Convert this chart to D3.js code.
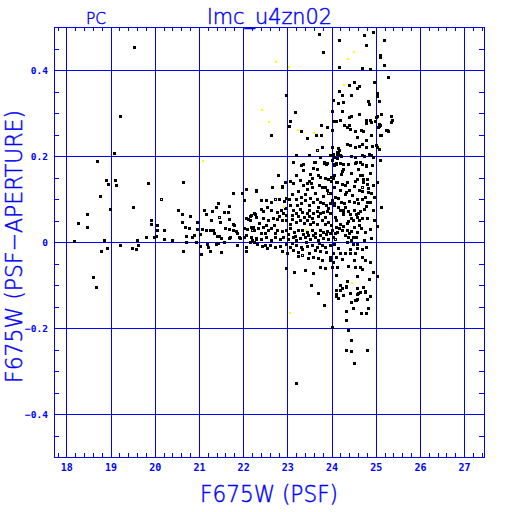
<!DOCTYPE html>
<html><head><meta charset="utf-8">
<script src="https://cdn.jsdelivr.net/npm/d3@7"></script>
<style>body{margin:0;background:#fff}svg{display:block}</style>
</head><body>
<script>
// ---- data ----
const xTicks = [18,19,20,21,22,23,24,25,26,27];
const xTickLabels = ["18","19","20","21","22","23","24","25","26","27"];
const yTicks = [-0.4,-0.2,0,0.2,0.4];
const yTickLabels = ["\u22120.4","\u22120.2","0","0.2","0.4"];
const titleText = "lmc_u4zn02";
const cameraText = "PC";
const xTitle = "F675W (PSF)";
const yTitle = "F675W (PSF\u2212APERTURE)";

const filledStars = [
[19.07,0.207],[18.69,0.189],[18.90,0.145],[19.09,0.145],[18.94,0.134],[19.12,0.133],[18.75,0.108],[18.98,0.077],[18.47,0.065],[18.26,0.045],[18.47,0.036],[18.17,0.003],[18.85,0.005],[18.92,-0.014],[18.78,-0.020],[18.60,-0.081],[18.66,-0.104],[19.52,0.454],[19.22,0.293],
[19.85,0.138],[19.51,0.081],[19.91,0.050],[19.91,0.043],[20.05,0.040],[20.05,0.029],[20.22,0.029],[19.80,0.012],[19.98,0.012],[20.02,0.014],[19.60,0.005],[20.22,0.007],[20.39,0.005],[19.22,-0.006],[19.61,-0.006],[19.48,-0.013],[19.57,-0.016],
[20.65,0.140],[20.53,0.074],[20.62,0.066],[20.79,0.060],[20.62,0.047],[20.68,0.035],[20.77,0.033],[20.96,0.047],[21.11,0.074],[21.16,0.064],[21.30,0.072],[21.44,0.091],[21.69,0.083],[21.38,0.082],[21.56,0.070],[21.65,0.070],[21.77,0.115],[21.97,0.113],[22.06,0.124],[22.29,0.120],[22.02,0.098],
[20.70,0.015],[20.84,0.012],[20.88,0.016],[20.96,0.030],[21.08,0.030],[21.02,0.018],[20.70,-0.001],[20.65,-0.020],[20.93,-0.001],[21.03,-0.009],[21.04,-0.028],[21.18,-0.005],[21.20,-0.012],[21.24,-0.020],[21.16,0.028],[21.26,0.028],[21.32,0.028],[21.33,0.020],[21.41,0.014],[21.46,0.014],[21.50,0.009],[21.39,-0.005],[21.43,-0.003],[21.49,-0.023],[21.56,-0.001],[21.67,0.009],[21.71,0.012],[21.58,0.033],[21.67,0.031],[21.77,0.028],[21.84,0.025],[21.86,0.020],[21.90,0.011],[21.94,0.009],[22.01,0.012],[22.06,0.016],[21.86,-0.007],[22.06,-0.011],[22.06,-0.021],[22.16,-0.001],[22.20,0.004],[22.25,-0.001],[22.06,0.055],[22.12,0.054],[22.16,0.060],[22.16,0.051],[22.24,0.028],[22.18,0.036],[22.01,0.032],[22.09,0.030],[21.76,0.043],[21.79,0.040],[21.27,0.051],[21.68,0.053],[21.47,0.046],
[23.72,0.484],[24.16,0.470],[23.80,0.442],[24.16,0.408],[24.73,0.482],[24.94,0.488],[24.77,0.459],[25.19,0.470],[25.09,0.436],[25.10,0.430],[25.19,0.412],[24.68,0.405],[24.88,0.402],[25.27,0.384],[24.97,0.372],[24.51,0.371],[24.58,0.357],[24.63,0.363],[24.39,0.364],[24.18,0.351],[24.23,0.343],[22.98,0.341],[24.04,0.330],[24.44,0.343],[24.83,0.328],[24.85,0.321],[25.02,0.346],[25.02,0.340],[25.07,0.328],[24.14,0.323],[24.27,0.326],[23.18,0.303],[23.06,0.282],[23.03,0.270],[24.00,0.305],[24.23,0.305],[24.39,0.291],[24.43,0.294],[24.62,0.297],[24.04,0.282],[24.11,0.282],[24.20,0.284],[23.76,0.272],[23.89,0.268],[24.02,0.260],[24.29,0.272],[24.34,0.268],[24.39,0.272],[24.42,0.263],[24.53,0.258],[24.66,0.260],[24.72,0.257],[24.77,0.284],[24.77,0.276],[24.88,0.284],[24.90,0.278],[24.98,0.282],[25.01,0.290],[25.09,0.272],[25.06,0.268],[25.25,0.260],[25.28,0.257],[23.32,0.257],[23.45,0.243],[23.64,0.250],[22.62,0.248],[23.76,0.249],[24.90,0.248],[25.11,0.250],[24.79,0.237],[24.58,0.244],[24.34,0.227],[24.42,0.226],[24.53,0.221],[24.62,0.223],[24.70,0.229],[24.78,0.222],[24.91,0.224],[25.00,0.225],[25.02,0.222],[23.78,0.222],[24.02,0.222],[24.15,0.219],[24.18,0.214],[24.04,0.205],[24.13,0.205],[24.20,0.202],[23.97,0.202],[24.06,0.198],[24.13,0.195],[24.43,0.201],[24.53,0.198],[24.69,0.203],[24.73,0.200],[24.84,0.205],[24.90,0.202],[24.93,0.197],[23.19,0.203],[23.48,0.202],[23.74,0.198],[23.60,0.186],[23.83,0.186],[23.88,0.182],[23.13,0.187],[23.32,0.179],[24.01,0.191],[24.09,0.184],[24.19,0.184],[24.26,0.181],[24.05,0.178],[24.37,0.181],[24.55,0.185],[24.68,0.181],[24.77,0.177],[24.91,0.178],[25.09,0.191],
[25.13,0.298],[25.35,0.293],[25.36,0.284],[25.34,0.280],[25.07,0.274],[25.07,0.270],[25.02,0.294],[25.24,0.260],[25.09,0.249],[25.08,0.217],
[25.04,0.140],[25.13,0.081],[25.02,0.037],[25.04,-0.079],[24.78,0.178],[24.64,0.185],[24.53,0.183],[24.64,0.156],[24.68,0.156],[24.72,0.147],[24.80,0.147],[24.57,0.147],[24.53,0.143],[24.72,0.140],[24.80,0.136],[24.93,0.133],[24.83,0.125],[24.70,0.119],[24.63,0.121],[24.82,0.116],[24.96,0.105],[24.75,0.105],[24.57,0.100],[24.51,0.094],[24.61,0.090],[24.80,0.093],[24.88,0.094],[24.93,0.074],[24.78,0.084],[24.73,0.076],[24.64,0.072],[24.61,0.067],[24.56,0.064],[24.50,0.074],[24.42,0.065],[24.38,0.072],[24.31,0.082],[24.29,0.090],[24.27,0.074],[24.25,0.070],[24.26,0.064],
[24.15,0.206],[24.13,0.210],[24.21,0.201],[24.06,0.181],[24.10,0.181],[24.27,0.170],[24.23,0.164],[24.05,0.156],[24.21,0.157],[24.13,0.140],[24.23,0.135],[24.31,0.132],[24.06,0.127],[24.10,0.139],[24.20,0.121],[24.33,0.117],[24.40,0.121],[24.31,0.111],[24.08,0.105],[24.15,0.103],[24.21,0.094],[24.06,0.091],[24.06,0.086],[24.15,0.081],[24.19,0.074],
[24.08,0.059],[24.11,0.050],[24.19,0.042],[24.27,0.037],[24.34,0.045],[24.38,0.049],[24.44,0.055],[24.48,0.050],[24.57,0.059],[24.63,0.051],[24.70,0.055],[24.81,0.055],[24.87,0.030],[24.76,0.024],[24.67,0.032],[24.57,0.024],[24.51,0.036],[24.45,0.026],[24.40,0.020],[24.34,0.028],[24.23,0.028],[24.17,0.032],[24.10,0.034],[24.07,0.020],[24.13,0.024],[24.30,0.016],[24.38,0.011],[24.45,0.005],[24.48,0.011],[24.55,0.011],[24.73,0.005],[24.36,0.001],[24.48,-0.005],[24.58,-0.005],
[24.05,-0.005],[24.15,-0.015],[24.42,-0.016],[24.57,-0.013],[24.68,-0.016],[24.78,-0.011],[24.04,-0.025],[24.19,-0.026],[24.30,-0.025],[24.42,-0.026],[24.53,-0.025],[24.10,-0.036],[24.23,-0.040],[24.50,-0.042],[24.68,-0.036],[24.76,-0.042],[24.87,-0.047],[24.04,-0.046],[24.13,-0.059],[24.38,-0.056],[24.53,-0.059],[24.64,-0.057],[24.70,-0.062],[24.93,-0.070],[24.11,-0.077],[24.57,-0.079],[24.85,-0.085],[24.36,-0.091],[24.19,-0.100],[24.32,-0.104],[24.58,-0.106],[24.72,-0.104],[24.76,-0.116],[24.57,-0.122],[24.42,-0.119],[24.27,-0.123],[24.11,-0.125],[24.87,-0.125],[24.58,-0.132],
[24.09,-0.121],[24.14,-0.130],[24.59,-0.119],[24.64,-0.116],[24.76,-0.114],[24.53,-0.135],[24.55,-0.135],[24.45,-0.139],[24.80,-0.133],[24.48,-0.153],[24.82,-0.153],[24.32,-0.160],[24.66,-0.164],[24.77,-0.164],[24.32,-0.181],[24.00,-0.197],[24.37,-0.205],[24.45,-0.228],[24.32,-0.250],[24.43,-0.253],[24.80,-0.251],[24.50,-0.281],
[23.53,-0.099],[23.69,-0.118],[23.84,-0.146],[23.20,-0.327],[24.19,-0.111],[24.23,-0.106],[24.32,-0.102],[24.36,-0.090],[24.11,-0.112],
[23.35,0.181],[23.62,0.187],[23.83,0.183],[23.89,0.183],[23.36,0.167],[23.59,0.171],[23.66,0.170],[22.79,0.156],[23.20,0.156],[23.51,0.158],[23.55,0.148],[23.49,0.143],[23.70,0.156],[23.75,0.152],[23.85,0.150],[23.92,0.146],[23.98,0.143],[23.99,0.152],[24.04,0.148],[22.66,0.129],[22.29,0.119],[22.94,0.140],[22.89,0.131],[23.07,0.143],[23.13,0.137],[23.28,0.144],[23.36,0.133],[23.44,0.137],[23.53,0.137],[23.56,0.127],[23.44,0.123],[23.72,0.133],[23.78,0.129],[23.85,0.129],[23.90,0.122],[23.96,0.113],
[22.40,0.098],[22.51,0.098],[22.93,0.096],[22.97,0.102],[23.04,0.099],[23.20,0.099],[23.32,0.105],[23.40,0.098],[23.32,0.090],[23.51,0.102],[23.59,0.094],[23.66,0.099],[23.74,0.094],[23.81,0.090],[23.88,0.086],[23.96,0.090],[24.00,0.098],
[22.53,0.081],[22.64,0.074],[22.46,0.072],[22.40,0.076],[22.76,0.070],[22.85,0.074],[22.91,0.067],[22.98,0.063],[23.13,0.074],[23.20,0.067],[23.28,0.076],[23.34,0.070],[23.44,0.067],[23.50,0.074],[23.59,0.067],[23.66,0.073],[23.74,0.068],[23.81,0.070],[23.89,0.073],[23.96,0.067],[22.25,0.067],[22.18,0.063],[22.29,0.059],
[22.46,0.055],[22.57,0.051],[22.68,0.055],[22.77,0.053],[22.87,0.051],[22.98,0.051],[23.05,0.043],[23.11,0.053],[23.19,0.047],[23.28,0.051],[23.37,0.045],[23.45,0.050],[23.51,0.043],[23.59,0.047],[23.66,0.042],[23.78,0.050],[23.85,0.042],[23.92,0.047],[23.98,0.040],
[22.23,0.036],[22.34,0.032],[22.46,0.034],[22.57,0.028],[22.64,0.032],[22.76,0.029],[22.87,0.026],[22.98,0.029],[23.07,0.032],[23.15,0.024],[23.23,0.028],[23.34,0.029],[23.44,0.024],[23.55,0.028],[23.62,0.022],[23.74,0.028],[23.81,0.024],[23.90,0.026],[24.00,0.029],
[22.18,0.012],[22.29,0.009],[22.40,0.006],[22.52,0.011],[22.64,0.005],[22.71,0.011],[22.83,0.006],[22.90,0.011],[23.02,0.006],[23.13,0.011],[23.20,0.005],[23.28,0.009],[23.40,0.011],[23.51,0.006],[23.62,0.011],[23.70,0.005],[23.81,0.009],[23.92,0.006],[24.04,0.011],
[22.61,-0.007],[22.72,-0.011],[22.83,-0.009],[22.98,-0.005],[23.07,-0.011],[23.20,-0.007],[23.32,-0.012],[23.44,-0.009],[23.55,-0.006],[23.66,-0.012],[23.78,-0.008],[23.85,-0.012],[23.96,-0.007],
[23.13,-0.019],[23.23,-0.023],[23.34,-0.017],[23.50,-0.026],[23.62,-0.019],[23.74,-0.020],[23.88,-0.023],[23.23,-0.033],[23.47,-0.038],[23.59,-0.034],[23.70,-0.038],[23.78,-0.042],[23.96,-0.034],[23.96,-0.042],
[22.98,-0.061],[23.15,-0.069],[23.40,-0.064],[23.59,-0.071],[23.75,-0.059],[23.85,-0.061],[24.00,-0.057],
[22.32,-0.005],[22.42,-0.010],[22.50,-0.008],[22.55,-0.013],[22.88,-0.020],[23.00,-0.025],
[22.35,0.045],[22.52,0.040],[22.70,0.040],[22.82,0.060],[22.95,0.078],[23.05,0.085],[23.10,0.062],[23.24,0.060],[23.38,0.058],[23.48,0.060],[23.55,0.055],[23.70,0.060],[23.85,0.058],[23.93,0.078],[23.02,0.018],[23.17,0.015],[23.35,0.018],[23.46,0.017],[23.58,0.016],[23.75,0.016],[23.88,0.018],[23.97,0.020],[23.10,0.112],[23.25,0.118],[23.40,0.112],[23.62,0.115],[23.80,0.108],[23.48,0.085],[23.70,0.082],[23.22,0.085],[22.62,0.092],[22.80,0.100],[22.72,0.020],[22.50,0.022],[22.40,0.020],[23.10,-0.002],[23.42,0.000],[23.72,-0.002],[24.45,0.160],[24.60,0.170],[24.88,0.160],[24.47,0.110],[24.68,0.100],[24.90,0.115],[24.40,0.095],[24.36,0.140],[24.50,0.130],[24.95,0.050],[24.90,0.010],[24.62,0.040]
];
const openStars = [
[20.13,0.099],[21.46,0.057],[22.27,0.064],[22.21,0.028],[22.30,0.009],[22.73,0.099],[22.88,0.127],[23.66,0.213],[23.92,0.115],[24.68,0.127],[24.08,0.006],[23.34,-0.030],[22.29,0.006]
];
const flaggedStars = [
[21.09,0.189],[22.74,0.418],[23.03,0.408],[24.37,0.426],[24.51,0.442],[24.29,0.366],[22.43,0.306],[22.58,0.279],[23.25,0.260],[23.61,0.253],[22.93,0.082],[23.42,0.028],[24.46,-0.095],[23.05,-0.164]
];

// ---- chart ----
const BLUE = "#0000ff";
const svg = d3.select("body").append("svg").attr("width",512).attr("height",512);
const x = d3.scaleLinear().domain([17.72,27.45]).range([54,484]);
const y = d3.scaleLinear().domain([-0.5,0.5]).range([457,27]);
const L=54,R=484,T=27,B=457;

function styleAxis(g){
  g.select(".domain").remove();
  g.selectAll("line").attr("stroke",BLUE).attr("stroke-width",1).attr("shape-rendering","crispEdges");
  g.selectAll("text").remove();
}
const xMinor = d3.range(89,138).map(i=>i/5).filter(v=>Math.abs(v-Math.round(v))>1e-6);
const yMinor = d3.range(-9,10).map(i=>i/20).filter(v=>Math.abs(v*5-Math.round(v*5))>1e-6);

// gridlines
svg.append("g").attr("transform",`translate(0,${B})`)
  .call(d3.axisBottom(x).tickValues(xTicks).tickSize(-(B-T))).call(styleAxis);
svg.append("g").attr("transform",`translate(${L},0)`)
  .call(d3.axisLeft(y).tickValues(yTicks).tickSize(-(R-L))).call(styleAxis);
// minor ticks
svg.append("g").attr("transform",`translate(0,${B})`)
  .call(d3.axisBottom(x).tickValues(xMinor).tickSize(-4)).call(styleAxis);
svg.append("g").attr("transform",`translate(0,${T})`)
  .call(d3.axisTop(x).tickValues(xMinor).tickSize(-4)).call(styleAxis);
svg.append("g").attr("transform",`translate(${L},0)`)
  .call(d3.axisLeft(y).tickValues(yMinor).tickSize(-5)).call(styleAxis);
svg.append("g").attr("transform",`translate(${R},0)`)
  .call(d3.axisRight(y).tickValues(yMinor).tickSize(-5)).call(styleAxis);
// frame
svg.append("rect").attr("x",L+0.5).attr("y",T+0.5).attr("width",R-L).attr("height",B-T)
  .attr("fill","none").attr("stroke",BLUE).attr("stroke-width",1).attr("shape-rendering","crispEdges");

// points
const pts = svg.append("g");
pts.selectAll("rect.f").data(filledStars).enter().append("rect").attr("class","f")
  .attr("x",d=>Math.round(x(d[0]))-1).attr("y",d=>Math.round(y(d[1]))-1)
  .attr("width",3).attr("height",3).attr("fill","#000").attr("shape-rendering","crispEdges");
pts.selectAll("rect.o").data(openStars).enter().append("rect").attr("class","o")
  .attr("x",d=>Math.round(x(d[0]))-0.5).attr("y",d=>Math.round(y(d[1]))-0.5)
  .attr("width",2).attr("height",2).attr("fill","none").attr("stroke","#000").attr("stroke-width",1).attr("shape-rendering","crispEdges");
pts.selectAll("rect.y").data(flaggedStars).enter().append("rect").attr("class","y")
  .attr("x",d=>Math.round(x(d[0]))-1).attr("y",d=>Math.round(y(d[1]))-1)
  .attr("width",2).attr("height",2).attr("fill","#ffff00").attr("shape-rendering","crispEdges");

// tick labels
const tickFont = "'DejaVu Sans Mono', monospace";
svg.append("g").selectAll("text").data(xTicks).enter().append("text")
  .attr("x",d=>x(d)+0.5).attr("y",471).attr("text-anchor","middle")
  .attr("font-family",tickFont).attr("font-weight","bold").attr("font-size",10).attr("fill",BLUE)
  .text((d,i)=>xTickLabels[i]);
svg.append("g").selectAll("text").data(yTicks).enter().append("text")
  .attr("x",48).attr("y",d=>y(d)+4).attr("text-anchor","end")
  .attr("font-family",tickFont).attr("font-weight","bold").attr("font-size",9.5).attr("fill",BLUE)
  .text((d,i)=>yTickLabels[i]);

// titles
const tFont = "'DejaVu Sans', sans-serif";
function label(txt,xp,yp,size,len,rot){
  const t = svg.append("text").attr("font-family",tFont).attr("font-weight",200)
    .attr("font-size",size).attr("fill",BLUE).attr("stroke",BLUE).attr("stroke-width",0.45)
    .attr("text-anchor","middle")
    .attr("textLength",len).attr("lengthAdjust","spacingAndGlyphs").text(txt);
  if(rot) t.attr("transform",`translate(${xp},${yp}) rotate(-90)`);
  else t.attr("x",xp).attr("y",yp);
}
label(titleText,269.5,24,21,125);
label(cameraText,96,24,16,20);
label(xTitle,269,502,23,138);
label(yTitle,22,246.5,23,273,true);
</script>
</body></html>
